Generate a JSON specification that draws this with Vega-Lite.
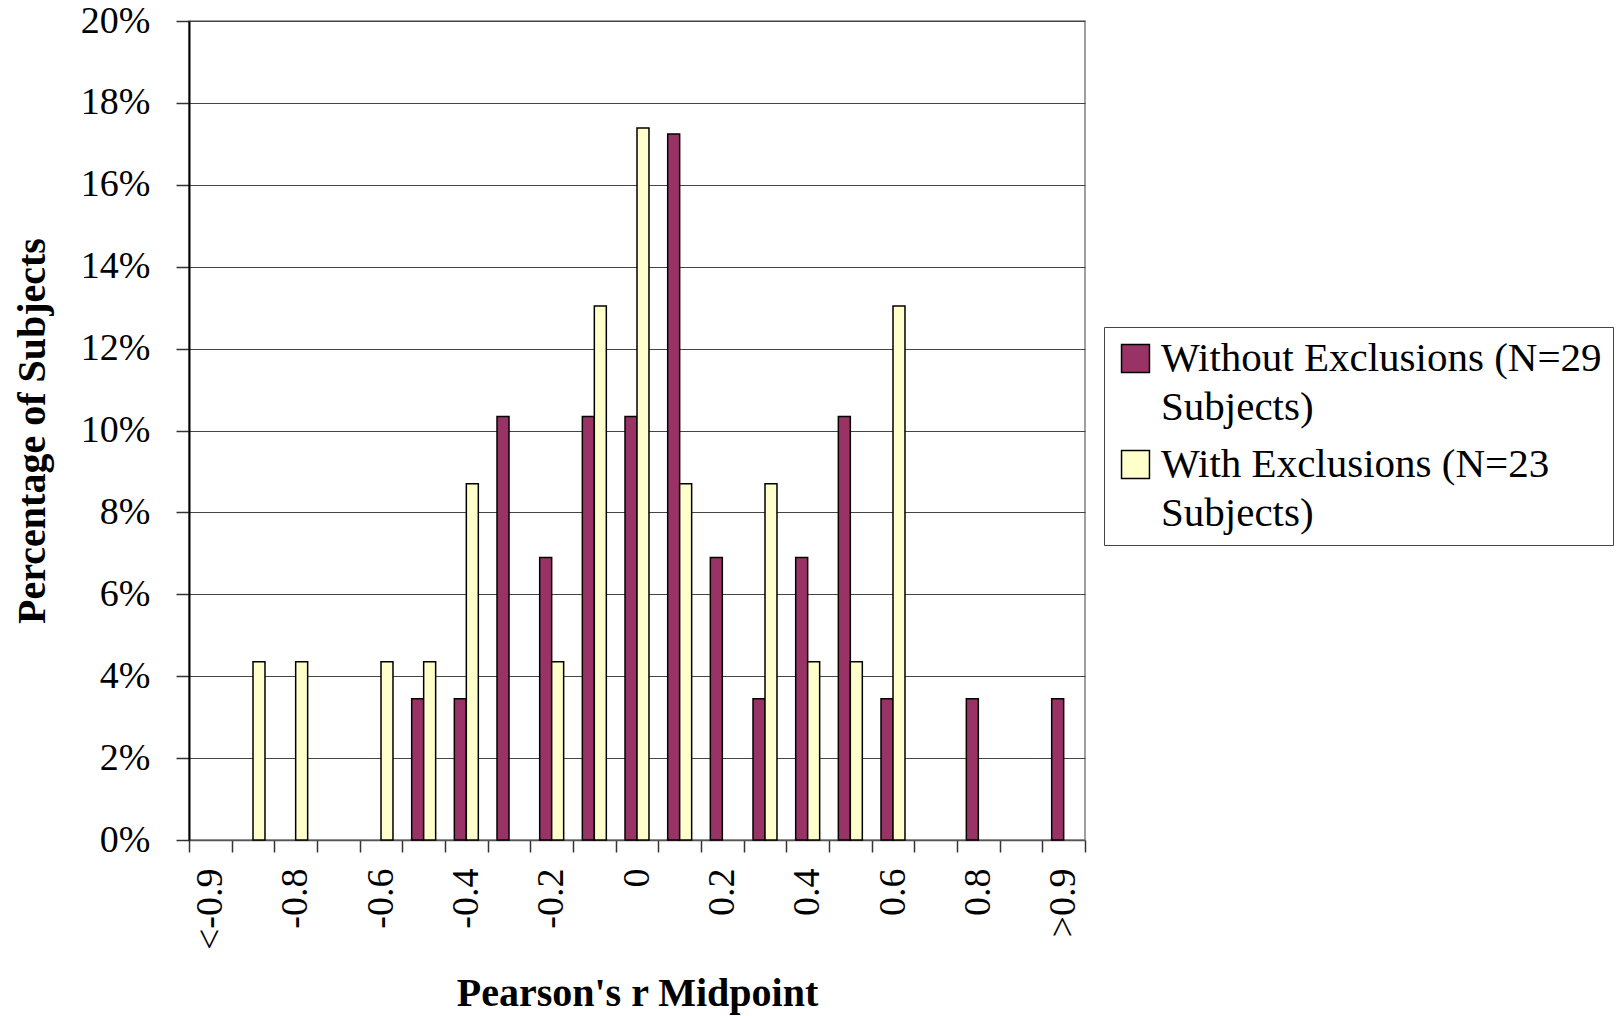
{
  "$schema": "https://vega.github.io/schema/vega-lite/v6.json",
  "width": 896,
  "height": 819,
  "autosize": {"type": "none"},
  "padding": {"left": 189, "top": 21, "right": 537, "bottom": 176},
  "background": "white",
  "config": {
    "font": "Liberation Serif",
    "view": {"stroke": "#808080", "strokeWidth": 1.5},
    "style": {"guide-label": {"lineHeight": 49}}
  },
  "data": {
    "values": [
      {"r": "-0.5", "series": "Without Exclusions (N=29 Subjects)", "pct": 0.0345},
      {"r": "-0.4", "series": "Without Exclusions (N=29 Subjects)", "pct": 0.0345},
      {"r": "-0.3", "series": "Without Exclusions (N=29 Subjects)", "pct": 0.1034},
      {"r": "-0.2", "series": "Without Exclusions (N=29 Subjects)", "pct": 0.069},
      {"r": "-0.1", "series": "Without Exclusions (N=29 Subjects)", "pct": 0.1034},
      {"r": "0", "series": "Without Exclusions (N=29 Subjects)", "pct": 0.1034},
      {"r": "0.1", "series": "Without Exclusions (N=29 Subjects)", "pct": 0.1724},
      {"r": "0.2", "series": "Without Exclusions (N=29 Subjects)", "pct": 0.069},
      {"r": "0.3", "series": "Without Exclusions (N=29 Subjects)", "pct": 0.0345},
      {"r": "0.4", "series": "Without Exclusions (N=29 Subjects)", "pct": 0.069},
      {"r": "0.5", "series": "Without Exclusions (N=29 Subjects)", "pct": 0.1034},
      {"r": "0.6", "series": "Without Exclusions (N=29 Subjects)", "pct": 0.0345},
      {"r": "0.8", "series": "Without Exclusions (N=29 Subjects)", "pct": 0.0345},
      {"r": ">0.9", "series": "Without Exclusions (N=29 Subjects)", "pct": 0.0345},
      {"r": "-0.9", "series": "With Exclusions (N=23 Subjects)", "pct": 0.0435},
      {"r": "-0.8", "series": "With Exclusions (N=23 Subjects)", "pct": 0.0435},
      {"r": "-0.6", "series": "With Exclusions (N=23 Subjects)", "pct": 0.0435},
      {"r": "-0.5", "series": "With Exclusions (N=23 Subjects)", "pct": 0.0435},
      {"r": "-0.4", "series": "With Exclusions (N=23 Subjects)", "pct": 0.087},
      {"r": "-0.2", "series": "With Exclusions (N=23 Subjects)", "pct": 0.0435},
      {"r": "-0.1", "series": "With Exclusions (N=23 Subjects)", "pct": 0.1304},
      {"r": "0", "series": "With Exclusions (N=23 Subjects)", "pct": 0.1739},
      {"r": "0.1", "series": "With Exclusions (N=23 Subjects)", "pct": 0.087},
      {"r": "0.3", "series": "With Exclusions (N=23 Subjects)", "pct": 0.087},
      {"r": "0.4", "series": "With Exclusions (N=23 Subjects)", "pct": 0.0435},
      {"r": "0.5", "series": "With Exclusions (N=23 Subjects)", "pct": 0.0435},
      {"r": "0.6", "series": "With Exclusions (N=23 Subjects)", "pct": 0.1304}
    ]
  },
  "mark": {"type": "bar", "stroke": "black", "strokeWidth": 1.5},
  "encoding": {
    "x": {
      "field": "r",
      "type": "nominal",
      "scale": {
        "domain": ["<-0.9", "-0.9", "-0.8", "-0.7", "-0.6", "-0.5", "-0.4", "-0.3", "-0.2", "-0.1", "0", "0.1", "0.2", "0.3", "0.4", "0.5", "0.6", "0.7", "0.8", "0.9", ">0.9"],
        "paddingInner": 0,
        "paddingOuter": 0
      },
      "axis": {
        "title": "Pearson's r Midpoint",
        "titleFontSize": 40,
        "titleFontWeight": "bold",
        "titleColor": "black",
        "titlePadding": 24,
        "labelAngle": 270,
        "labelFontSize": 38,
        "labelColor": "black",
        "labelPadding": 16,
        "labelExpr": "indexof(['<-0.9','-0.8','-0.6','-0.4','-0.2','0','0.2','0.4','0.6','0.8','>0.9'], datum.value) >= 0 ? datum.value : ''",
        "tickBand": "extent",
        "tickSize": 12,
        "tickColor": "#333",
        "tickWidth": 1.5,
        "domainColor": "#555",
        "domainWidth": 1.5,
        "labelOverlap": false
      }
    },
    "xOffset": {
      "field": "series",
      "type": "nominal",
      "scale": {
        "domain": ["Without Exclusions (N=29 Subjects)", "With Exclusions (N=23 Subjects)"],
        "paddingInner": 0,
        "paddingOuter": 0.78
      }
    },
    "y": {
      "field": "pct",
      "type": "quantitative",
      "scale": {"domain": [0, 0.2], "nice": false},
      "axis": {
        "title": "Percentage of Subjects",
        "titleFontSize": 40,
        "titleFontWeight": "bold",
        "titleColor": "black",
        "titlePadding": 28,
        "format": ".0%",
        "values": [0, 0.02, 0.04, 0.06, 0.08, 0.1, 0.12, 0.14, 0.16, 0.18, 0.2],
        "labelFontSize": 38,
        "labelColor": "black",
        "labelPadding": 26,
        "tickSize": 13,
        "tickColor": "#333",
        "tickWidth": 1.5,
        "domainColor": "black",
        "domainWidth": 2,
        "grid": true,
        "gridColor": "#444",
        "gridWidth": 1.2
      }
    },
    "fill": {
      "field": "series",
      "type": "nominal",
      "scale": {
        "domain": ["Without Exclusions (N=29 Subjects)", "With Exclusions (N=23 Subjects)"],
        "range": ["#993366", "#FFFFCC"]
      },
      "legend": {
        "title": null,
        "orient": "none",
        "legendX": 915,
        "legendY": 306,
        "labelExpr": "datum.label == 'Without Exclusions (N=29 Subjects)' ? ['Without Exclusions (N=29', 'Subjects)'] : ['With Exclusions (N=23', 'Subjects)']",
        "labelFontSize": 41,
        "labelColor": "black",
        "labelLimit": 700,
        "symbolType": "square",
        "symbolSize": 780,
        "symbolStrokeColor": "black",
        "symbolStrokeWidth": 1.5,
        "strokeColor": "#444",
        "fillColor": "white",
        "padding": 11,
        "rowPadding": 15,
        "labelOffset": 5
      }
    }
  }
}
